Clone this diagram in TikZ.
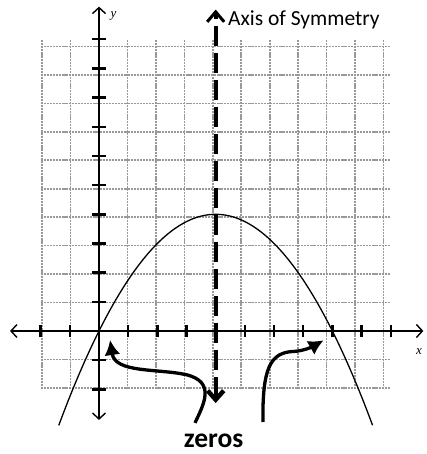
\documentclass[tikz,border=0pt]{standalone}
\usepackage{fontspec}
\setmainfont{Carlito}
\newfontfamily\serifit{Liberation Serif}
\usetikzlibrary{arrows.meta}
\begin{document}
\begin{tikzpicture}[x=29.17pt,y=29.17pt,
  gridstyle/.style={draw=black!40, line width=1.6pt, dash pattern=on 2.2pt off 0.9pt},
  axisline/.style={line width=1.6pt, {Straight Barb[length=6pt,width=13pt,line width=1.4pt]}-{Straight Barb[length=6pt,width=13pt,line width=1.4pt]}},
  tickmark/.style={line width=2.4pt},
  parab/.style={line width=1.3pt},
  symaxis/.style={line width=4pt, dash pattern=on 20pt off 7pt,
    {Straight Barb[length=9pt,width=16pt,line width=4.5pt]}-{Straight Barb[length=10pt,width=17pt,line width=3pt]}},
  zeroarrow/.style={line width=3.3pt, -{Latex[length=15pt,width=16pt]}},
  lbl/.style={inner sep=0pt, font=\serifit\itshape\fontsize{13}{13}\selectfont}]
\useasboundingbox (-3.394,-4.217) rectangle (11.244,11.347);
% grid
\draw[gridstyle] (-2,-2) grid (10,10);
% parabola
\draw[parab] plot[domain=-1.38:9.38, samples=120, smooth] (\x,{4-(\x-4)^2/4});
% axes
\coordinate (xl) at (-3.05,0);
\coordinate (xr) at (11.12,0);
\coordinate (yb) at (0,-3.05);
\coordinate (yt) at (0,11.12);
\draw[axisline] (xl) -- (xr);
\draw[axisline] (yb) -- (yt);
\foreach \i in {-2,-1,1,2,3,4,5,6,7,8,9,10} {
  \draw[tickmark] (\i,-0.21) -- (\i,0.21);
  \draw[tickmark] (-0.23,\i) -- (0.23,\i);
}
\node[lbl] (ylab) at (0.5,10.8) {y};
\node[lbl] (xlab) at (10.97,-0.72) {x};
% axis of symmetry
\coordinate (st) at (4,11.02);
\coordinate (sb) at (4,-2.47);
\draw[symaxis] (sb) -- (st);
\node[anchor=base west, inner sep=0pt, font=\fontsize{21.5}{22}\selectfont] (aos) at (4.42,10.46) {Axis of Symmetry};
% zeros label
\node[anchor=base, inner sep=0pt, font=\bfseries\fontsize{27.5}{28}\selectfont] (zeros) at (3.93,-3.99) {zeros};
\coordinate (la) at (3.29,-3.15);
\coordinate (lt) at (0.38,-0.31);
\coordinate (ra) at (5.62,-3.12);
\coordinate (rt) at (7.7,-0.32);
\draw[zeroarrow] (la) .. controls (3.6,-2.5) and (4.0,-1.75) .. (3.0,-1.5)
  .. controls (2.0,-1.28) and (0.55,-1.45) .. (lt);
\draw[zeroarrow] (ra) .. controls (5.6,-1.3) and (5.85,-0.72) .. (6.7,-0.7)
  .. controls (7.0,-0.68) and (7.3,-0.55) .. (rt);
\end{tikzpicture}
\end{document}
